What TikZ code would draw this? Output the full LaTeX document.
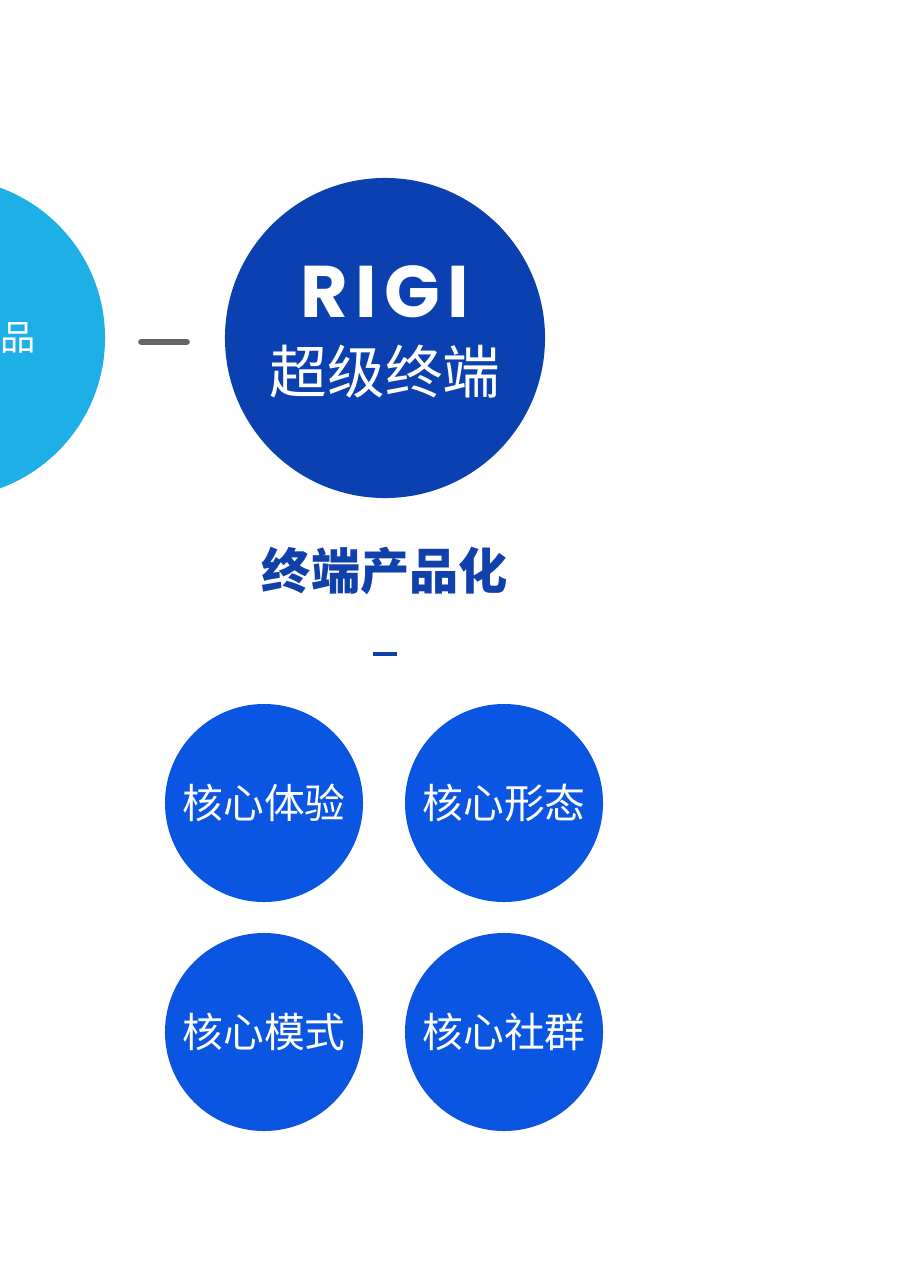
\documentclass[tikz,border=0pt]{standalone}
\usepackage{fontspec}
\newfontfamily\cjk{Noto Sans CJK SC}
\newfontfamily\rigifont{Poppins}[LetterSpace=10]
\definecolor{skyblue}{HTML}{1DAFE6}
\definecolor{deepblue}{HTML}{0A40B0}
\definecolor{titleblue}{HTML}{1040AA}
\definecolor{coreblue}{HTML}{0A55E1}
\definecolor{bargray}{HTML}{666666}
\tikzset{
  bigdisc/.style={circle,fill=#1,minimum size=8cm,inner sep=0pt},
  coredisc/.style={circle,fill=coreblue,minimum size=4.95cm,inner sep=0pt,
    text=white,font=\cjk\fontsize{29}{31}\selectfont},
  linkbar/.style={bargray,line width=4.5pt,line cap=round,shorten <=0.9cm,shorten >=0.95cm}
}
\begin{document}
\begin{tikzpicture}[x=0.025cm,y=-0.025cm]
  \useasboundingbox (0,0) rectangle (900,1280);
  \clip (0,0) rectangle (900,1280);
  \fill[white] (0,0) rectangle (900,1280);
  % top row
  \node[bigdisc=skyblue] (prev) at (-55,338) {};
  \node[text=white,font=\cjk\fontsize{25}{27}\selectfont] (prevtext) at (18,338) {品};
  \node[bigdisc=deepblue] (rigi) at (385,338) {};
  \node[text=white,font=\rigifont\bfseries\fontsize{52}{54}\selectfont] (riginame) at (385,292) {RIGI};
  \node[text=white,font=\cjk\fontsize{41}{43}\selectfont] (rigisub) at (385,372) {超级终端};
  \draw[linkbar] ([yshift=-0.1cm]prev.east) -- ([yshift=-0.1cm]rigi.west);
  % title
  \node[text=titleblue,font=\cjk\bfseries\fontsize{35}{37}\selectfont] (title) at (385,571) {终端产品化};
  \coordinate (mark) at (385,654);
  \draw[titleblue,line width=2.5pt] ([xshift=-0.3cm]mark) -- ([xshift=0.3cm]mark);
  % core grid
  \foreach \name/\x/\y/\txt in {exp/264/803/核心体验, form/504/803/核心形态,
                                mode/264/1032/核心模式, group/504/1032/核心社群}
    \node[coredisc] (\name) at (\x,\y) {\txt};
\end{tikzpicture}
\end{document}
